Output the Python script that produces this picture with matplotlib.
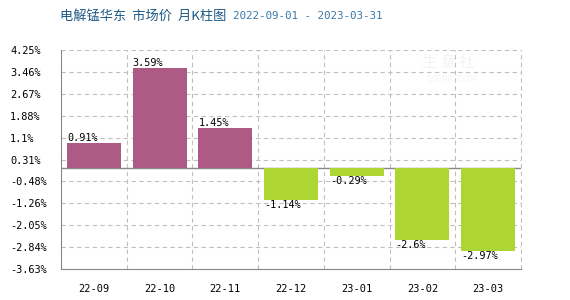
import numpy as np
import matplotlib
matplotlib.use('Agg')
import matplotlib.pyplot as plt

months = ['22-09', '22-10', '22-11', '22-12', '23-01', '23-02', '23-03']
changes = [0.91, 3.59, 1.45, -1.14, -0.29, -2.6, -2.97]
yticks = [4.25, 3.46, 2.67, 1.88, 1.1, 0.31, -0.48, -1.26, -2.05, -2.84, -3.63]
ymin, ymax = -3.63, 4.25

UP, DOWN = '#ad5b84', '#add633'
GRID = '#c0c0c0'
AXC = '#888888'
MONO = 'DejaVu Sans Mono'

fig = plt.figure(figsize=(5.7, 3.0), dpi=100)
W, H = 570, 300
L, R, T, B = 61, 521, 50, 269
a = fig.add_axes([L/W, 1 - B/H, (R-L)/W, (B-T)/H])

x = np.arange(len(months))
cols = [UP if v >= 0 else DOWN for v in changes]
a.bar(x, changes, width=0.82, color=cols, zorder=3)
for xi, v in zip(x, changes):
    lbl = f'{v:g}%'
    va = 'bottom' if v >= 0 else 'top'
    a.text(xi - 0.41, v, lbl, ha='left', va=va, fontsize=7.3,
           family=MONO, zorder=4)

a.set_xlim(-0.5, len(months) - 0.5)
a.set_ylim(ymin, ymax)
a.set_yticks(yticks)
a.set_yticklabels([f'{t:g}%' for t in yticks], family=MONO, fontsize=7.4)
for t in a.get_yticklabels():
    t.set_horizontalalignment('left')
a.tick_params(axis='y', length=0, pad=51*0.72)
a.set_xticks(x)
a.set_xticklabels(months, family=MONO, fontsize=7.5)
a.tick_params(axis='x', length=0, pad=11)

for yt in yticks:
    a.axhline(yt, color=GRID, lw=0.8, ls=(0, (4, 3)), zorder=1)
for xb in np.arange(0.5, len(months) + 0.5, 1.0):
    a.axvline(xb, color=GRID, lw=0.8, ls=(0, (4, 3)), zorder=1, clip_on=False)
a.axhline(0, color=AXC, lw=1.0, zorder=2)

for s in ('top', 'right'):
    a.spines[s].set_visible(False)
a.spines['left'].set_color(AXC)
a.spines['bottom'].set_color(AXC)

# faint watermark
fig.text(448/W, 1 - 63/H, '生 意 社', family='Noto Sans CJK SC', fontsize=11,
         color='#f3f3f3', ha='center', va='center', zorder=0)
fig.text(452/W, 1 - 80/H, '100PPI.COM', fontsize=6, color='#f5f5f5',
         ha='center', va='center', zorder=0)

fig.text(60/W, 1 - 16/H, '电解锰华东  市场价  月K柱图', family='Noto Sans CJK SC',
         fontsize=9.5, color='#1d5a85', ha='left', va='center')
fig.text(233/W, 1 - 16/H, '2022-09-01 - 2023-03-31', family=MONO,
         fontsize=7.8, color='#3a79a8', ha='left', va='center')

fig.savefig('out.png', dpi=100, facecolor='white')
